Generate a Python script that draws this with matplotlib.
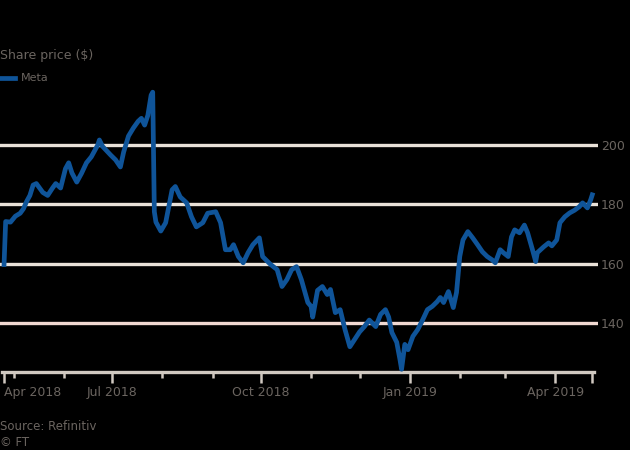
import numpy as np
import pandas as pd
import matplotlib
matplotlib.use("Agg")
import matplotlib.pyplot as plt
import matplotlib.dates as mdates
from matplotlib.lines import Line2D

# ------------------------------------------------------------
# DATA
# ------------------------------------------------------------
DATES = [
    "2018-04-25", "2018-04-26", "2018-04-29", "2018-05-02", "2018-05-05", "2018-05-07",
    "2018-05-09", "2018-05-11", "2018-05-13", "2018-05-15", "2018-05-19", "2018-05-22",
    "2018-05-25", "2018-05-27", "2018-05-30", "2018-06-02", "2018-06-04", "2018-06-06",
    "2018-06-09", "2018-06-12", "2018-06-15", "2018-06-18", "2018-06-22", "2018-06-23",
    "2018-06-25", "2018-06-30", "2018-07-03", "2018-07-06", "2018-07-08", "2018-07-11",
    "2018-07-14", "2018-07-17", "2018-07-19", "2018-07-21", "2018-07-23", "2018-07-25",
    "2018-07-26", "2018-07-27", "2018-07-28", "2018-07-31", "2018-08-03", "2018-08-07",
    "2018-08-09", "2018-08-12", "2018-08-16", "2018-08-19", "2018-08-22", "2018-08-26",
    "2018-08-29", "2018-09-03", "2018-09-06", "2018-09-09", "2018-09-12", "2018-09-14",
    "2018-09-17", "2018-09-20", "2018-09-23", "2018-09-26", "2018-09-30", "2018-10-02",
    "2018-10-07", "2018-10-11", "2018-10-14", "2018-10-17", "2018-10-20", "2018-10-23",
    "2018-10-26", "2018-10-30", "2018-11-01", "2018-11-02", "2018-11-05", "2018-11-08",
    "2018-11-11", "2018-11-13", "2018-11-16", "2018-11-19", "2018-11-22", "2018-11-25",
    "2018-11-28", "2018-12-01", "2018-12-04", "2018-12-07", "2018-12-11", "2018-12-14",
    "2018-12-17", "2018-12-19", "2018-12-21", "2018-12-24", "2018-12-26", "2018-12-27",
    "2018-12-29", "2018-12-31", "2019-01-03", "2019-01-06", "2019-01-09", "2019-01-12",
    "2019-01-15", "2019-01-18", "2019-01-20", "2019-01-22", "2019-01-25", "2019-01-28",
    "2019-01-30", "2019-02-01", "2019-02-03", "2019-02-06", "2019-02-09", "2019-02-12",
    "2019-02-15", "2019-02-18", "2019-02-21", "2019-02-23", "2019-02-26", "2019-02-28",
    "2019-03-03", "2019-03-05", "2019-03-07", "2019-03-10", "2019-03-13", "2019-03-15",
    "2019-03-18", "2019-03-20", "2019-03-21", "2019-03-25", "2019-03-28", "2019-03-30",
    "2019-04-02", "2019-04-04", "2019-04-07", "2019-04-10", "2019-04-13", "2019-04-16",
    "2019-04-18", "2019-04-21", "2019-04-23", "2019-04-24",
]
PRICES = [
    159.7, 174.2, 174.0, 176.0, 177.0, 178.5,
    181.0, 183.0, 186.5, 187.0, 184.0, 183.0,
    185.5, 187.0, 185.5, 192.0, 194.0, 190.6,
    187.5, 190.5, 194.0, 196.0, 200.0, 201.7,
    199.5, 196.6, 195.0, 192.6, 197.6, 203.0,
    205.7, 208.0, 209.0, 206.7, 210.0, 216.8,
    217.8, 177.5, 174.0, 171.0, 173.8, 184.9,
    186.0, 182.5, 180.5, 175.8, 172.4, 173.8,
    177.0, 177.5, 173.8, 164.7, 164.7, 166.4,
    162.4, 160.3, 163.7, 166.4, 168.7, 162.4,
    159.7, 158.0, 152.3, 154.6, 158.0, 159.0,
    154.6, 146.9, 145.6, 142.0, 151.0, 152.3,
    149.6, 151.3, 143.5, 144.5, 137.8, 132.0,
    134.5, 137.0, 138.8, 141.0, 138.8, 142.9,
    144.5, 142.0, 136.8, 133.5, 127.7, 124.4,
    132.8, 131.0, 135.5, 137.8, 141.0, 144.5,
    145.6, 147.2, 148.6, 146.9, 150.6, 145.2,
    150.3, 162.4, 168.0, 170.8, 168.7, 166.4,
    164.0, 162.4, 161.3, 160.3, 164.7, 163.7,
    162.4, 169.0, 171.4, 170.4, 173.0, 170.4,
    164.7, 160.7, 163.7, 165.7, 167.0, 166.0,
    168.0, 173.8, 175.8, 177.1, 178.0, 179.2,
    180.5, 178.8, 181.5, 183.2,
]
SERIES_NAME = "Meta"
Y_TICKS = [140, 160, 180, 200]
X_LABELS = ["Apr 2018", "Jul 2018", "Oct 2018", "Jan 2019", "Apr 2019"]

# ------------------------------------------------------------
# STYLE
# ------------------------------------------------------------
BG = "black"
LINE = "#0f5499"
GRID = "#e9e1d8"
GRID_LOW = "#f1d9d2"
AXIS = "#d0c9c1"
TEXT = "#6b6560"

plt.rcParams["font.family"] = ["DejaVu Sans"]

dates = pd.to_datetime(DATES)

fig = plt.figure(figsize=(6.3, 4.5), dpi=100, facecolor=BG)
ax = fig.add_axes([0.0, 1 - 372 / 450, 598 / 630, (372 - 88) / 450])
ax.set_facecolor(BG)

# horizontal grid lines
for v in Y_TICKS:
    ax.axhline(v, color=GRID_LOW if v == Y_TICKS[0] else GRID, lw=2.4, zorder=1)

ax.plot(dates, PRICES, color=LINE, lw=3.4, solid_joinstyle="round", zorder=3)

x0 = dates[0] - pd.Timedelta(days=2.5)
ax.set_xlim(x0, x0 + pd.Timedelta(days=598 / 1.616))
ax.set_ylim(140 - 49 / 2.967, 200 + 57 / 2.967)

# y axis on the right
ax.yaxis.tick_right()
ax.set_yticks(Y_TICKS)
ax.tick_params(axis="y", length=0, pad=2, labelsize=9, labelcolor=TEXT)

# x axis
for s in ["top", "left", "right"]:
    ax.spines[s].set_visible(False)
ax.spines["bottom"].set_color(AXIS)
ax.spines["bottom"].set_linewidth(2.4)
ax.spines["bottom"].set_bounds(mdates.date2num(dates[0] - pd.Timedelta(days=1)),
                               mdates.date2num(dates[-1] + pd.Timedelta(days=1)))

major = [dates[0], pd.Timestamp("2018-07-01"), pd.Timestamp("2018-10-01"),
         pd.Timestamp("2019-01-01"), pd.Timestamp("2019-04-01"), dates[-1]]
minor = pd.to_datetime(["2018-05-01", "2018-06-01", "2018-08-01", "2018-09-01",
                        "2018-11-01", "2018-12-01", "2019-02-01", "2019-03-01"])
ax.set_xticks(major)
ax.set_xticklabels(X_LABELS + [""])
ax.set_xticks(minor, minor=True)
ax.tick_params(axis="x", which="major", length=8, width=1.8, color=AXIS,
               pad=2, labelsize=9, labelcolor=TEXT)
ax.tick_params(axis="x", which="minor", length=4, width=1.8, color=AXIS)
ax.get_xticklabels()[0].set_horizontalalignment("left")

# title, legend, source
fig.text(0, 1 - 56 / 450, "Share price ($)", color=TEXT, fontsize=9,
         va="center", ha="left")
fig.add_artist(Line2D([0, 15 / 630], [1 - 78 / 450] * 2, color=LINE, lw=3.4,
                      transform=fig.transFigure))
fig.text(21 / 630, 1 - 78 / 450, SERIES_NAME, color=TEXT, fontsize=8,
         va="center", ha="left")
fig.text(0, 1 - 426 / 450, "Source: Refinitiv", color=TEXT, fontsize=8.5,
         va="center", ha="left")
fig.text(0, 1 - 442 / 450, "© FT", color=TEXT, fontsize=8.5,
         va="center", ha="left")

fig.savefig("out.png", dpi=100, facecolor=BG)
